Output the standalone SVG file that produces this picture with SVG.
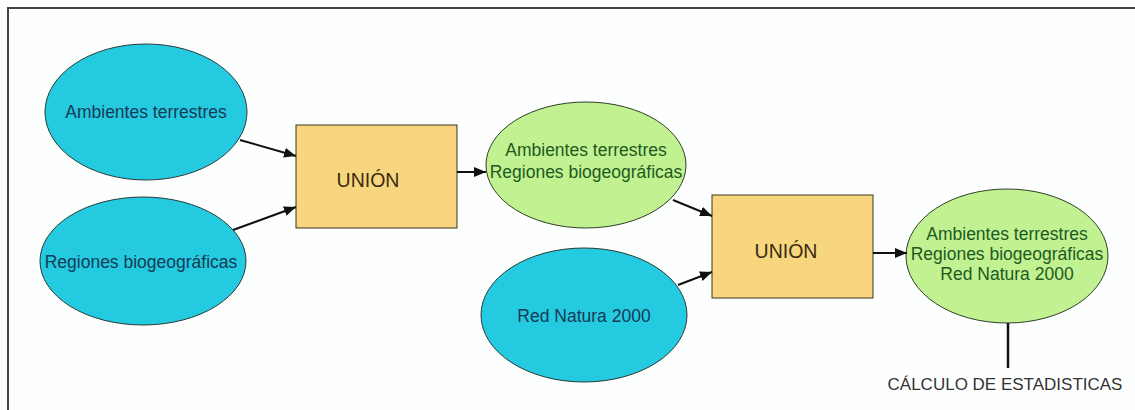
<svg xmlns="http://www.w3.org/2000/svg" width="1135" height="410" viewBox="0 0 1135 410">
  <defs>
    <marker id="arrow" viewBox="0 0 12 10" refX="12" refY="5" markerWidth="12" markerHeight="10" markerUnits="userSpaceOnUse" orient="auto">
      <path d="M0,0 L12,5 L0,10 z" fill="#111"/>
    </marker>
    <style>
      text { font-family: "Liberation Sans", Arial, sans-serif; text-anchor: middle; }
      .input ellipse { fill: #24cbe0; stroke: #2a3a3a; stroke-width: 1; }
      .input text { fill: #153a55; font-size: 17.5px; }
      .output ellipse { fill: #c2f191; stroke: #2f3f2a; stroke-width: 1; }
      .output text { fill: #1d5a1f; font-size: 17.5px; }
      .tool rect { fill: #f7d67e; stroke: #3a3220; stroke-width: 1; }
      .tool text { fill: #3a2b10; font-size: 19.5px; }
      .edge { stroke: #111; stroke-width: 2; fill: none; marker-end: url(#arrow); }
      .link { stroke: #111; stroke-width: 2.5; fill: none; }
      .note { fill: #333; font-size: 17px; }
    </style>
  </defs>

  <rect x="0" y="0" width="1135" height="410" fill="#fdfefe"/>
  <path d="M8,410 L8,8 L1135,8" fill="none" stroke="#444" stroke-width="2"/>

  <g id="ambientes" class="input">
    <ellipse cx="146" cy="112" rx="101" ry="68"/>
    <text x="146" y="118">Ambientes terrestres</text>
  </g>
  <g id="regiones" class="input">
    <ellipse cx="143" cy="261" rx="103" ry="64"/>
    <text x="141" y="268">Regiones biogeográficas</text>
  </g>
  <g id="union1" class="tool">
    <rect x="296" y="125" width="161" height="103"/>
    <text x="368" y="187">UNIÓN</text>
  </g>
  <g id="resultado1" class="output">
    <ellipse cx="586" cy="165" rx="100" ry="63"/>
    <text x="586" y="156">Ambientes terrestres</text>
    <text x="586" y="178">Regiones biogeográficas</text>
  </g>
  <g id="natura" class="input">
    <ellipse cx="584" cy="315" rx="103" ry="67"/>
    <text x="584" y="322">Red Natura 2000</text>
  </g>
  <g id="union2" class="tool">
    <rect x="712" y="195" width="161" height="103"/>
    <text x="786" y="258">UNIÓN</text>
  </g>
  <g id="resultado2" class="output">
    <ellipse cx="1007" cy="256" rx="101" ry="67"/>
    <text x="1007" y="240">Ambientes terrestres</text>
    <text x="1007" y="260">Regiones biogeográficas</text>
    <text x="1007" y="280">Red Natura 2000</text>
  </g>
  <g id="estadisticas">
    <text class="note" x="1005" y="390">CÁLCULO DE ESTADISTICAS</text>
  </g>

  <g id="connectors">
    <line class="edge" x1="240" y1="140" x2="296" y2="156"/>
    <line class="edge" x1="233" y1="230" x2="296" y2="207"/>
    <line class="edge" x1="457" y1="172" x2="486" y2="172"/>
    <line class="edge" x1="673" y1="200" x2="712" y2="216"/>
    <line class="edge" x1="678" y1="285" x2="712" y2="272"/>
    <line class="edge" x1="873" y1="253" x2="907" y2="253"/>
    <line class="link" x1="1008" y1="323" x2="1008" y2="368"/>
  </g>
</svg>
